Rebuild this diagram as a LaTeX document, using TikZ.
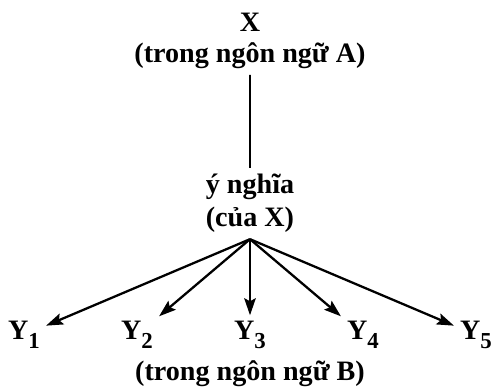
\documentclass[tikz,border=0pt]{standalone}
\usepackage{fontspec}
\setmainfont{Liberation Serif}
\usetikzlibrary{positioning,arrows.meta}
\newcommand{\ysub}[1]{\raisebox{-0.3em}{\fontsize{13}{13}\selectfont #1}}

\begin{document}
\begin{tikzpicture}[level distance=3.25cm, parent anchor=south,
  every node/.style={align=center, font=\fontsize{16}{17.5}\selectfont\bfseries},
  edge from parent/.style={draw, line width=1.1pt},
  level 2/.style={sibling distance=2.26cm, level distance=2.63cm,
    edge from parent/.style={draw, line width=1.3pt,
      -{Stealth[length=3.4mm,width=2.3mm,inset=0.6mm]}}}]
  \useasboundingbox (0,0) rectangle (9.9,-7.76);
  \node (x) at (5,-0.82) {X\\(trong ngôn ngữ A)}
    child { node (m) [font=\fontsize{16}{19}\selectfont\bfseries] {ý nghĩa\\(của X)}
      child {node (y1) {Y\ysub{1}}}
      child {node (y2) {Y\ysub{2}}}
      child {node (y3) {Y\ysub{3}}}
      child {node (y4) {Y\ysub{4}}}
      child {node (y5) {Y\ysub{5}}}
    };
  \node (b) [below=0cm of y3] {(trong ngôn ngữ B)};
\end{tikzpicture}
\end{document}
